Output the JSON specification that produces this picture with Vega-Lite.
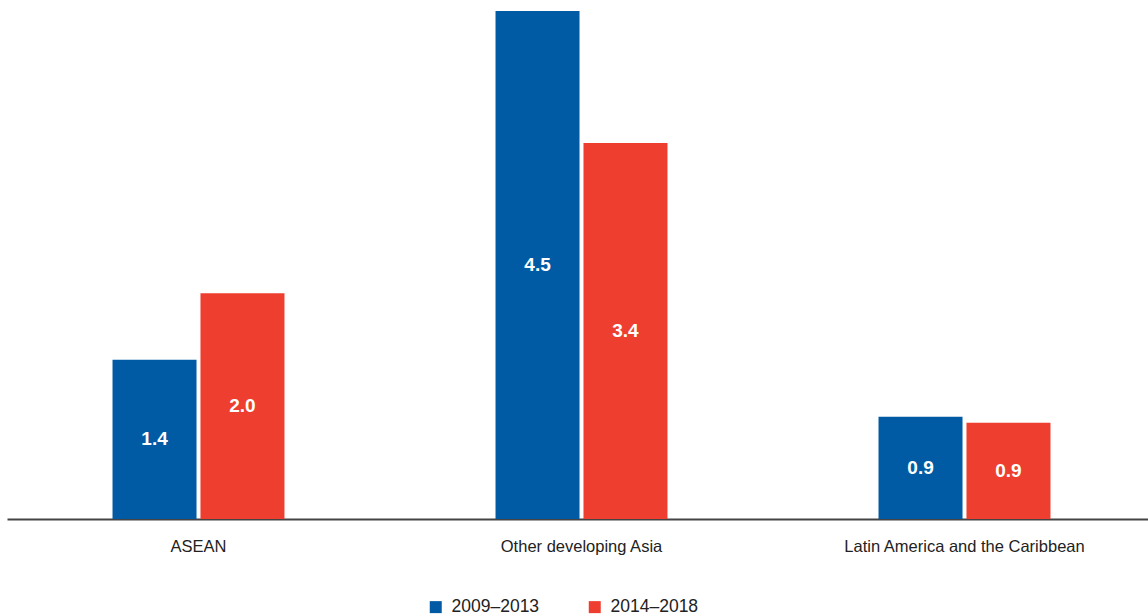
{
  "$schema": "https://vega.github.io/schema/vega-lite/v6.json",
  "width": 1149,
  "height": 508,
  "padding": {"left": 7, "top": 11, "right": 0, "bottom": 0},
  "config": {
    "view": {"stroke": null},
    "font": "Liberation Sans"
  },
  "data": {
    "values": [
      {"region": "ASEAN", "period": "2009–2013", "value": 1.41, "label": "1.4"},
      {"region": "ASEAN", "period": "2014–2018", "value": 2.0, "label": "2.0"},
      {"region": "Other developing Asia", "period": "2009–2013", "value": 4.5, "label": "4.5"},
      {"region": "Other developing Asia", "period": "2014–2018", "value": 3.33, "label": "3.4"},
      {"region": "Latin America and the Caribbean", "period": "2009–2013", "value": 0.906, "label": "0.9"},
      {"region": "Latin America and the Caribbean", "period": "2014–2018", "value": 0.853, "label": "0.9"}
    ]
  },
  "encoding": {
    "x": {
      "field": "region",
      "type": "nominal",
      "sort": null,
      "scale": {"paddingInner": 0.551, "paddingOuter": 0.2755},
      "axis": {
        "title": null,
        "labelAngle": 0,
        "ticks": false,
        "domainColor": "#444444",
        "domainWidth": 2,
        "labelFontSize": 16.5,
        "labelColor": "#222222",
        "labelPadding": 19,
        "labelLimit": 0
      }
    },
    "xOffset": {
      "field": "period",
      "type": "nominal",
      "scale": {"paddingInner": 0.045, "paddingOuter": 0}
    }
  },
  "resolve": {"scale": {"y": "independent"}},
  "layer": [
    {
      "mark": {"type": "bar"},
      "encoding": {
        "y": {
          "field": "value",
          "type": "quantitative",
          "scale": {"domain": [0, 4.5], "nice": false},
          "axis": null
        },
        "color": {
          "field": "period",
          "type": "nominal",
          "scale": {"domain": ["2009–2013", "2014–2018"], "range": ["#005BA4", "#EE3E2F"]},
          "legend": {
            "title": null,
            "orient": "none",
            "direction": "horizontal",
            "legendX": 420,
            "legendY": 587,
            "symbolType": "square",
            "symbolSize": 144,
            "symbolStrokeWidth": 0,
            "labelFontSize": 17.5,
            "labelColor": "#222222",
            "labelOffset": 7,
            "columnPadding": 46
          }
        }
      }
    },
    {
      "mark": {"type": "text", "color": "white", "fontWeight": "bold", "fontSize": 19, "baseline": "middle"},
      "encoding": {
        "y": {
          "field": "value",
          "type": "quantitative",
          "scale": {"domain": [0, 9], "nice": false},
          "axis": null
        },
        "text": {"field": "label"}
      }
    }
  ]
}
